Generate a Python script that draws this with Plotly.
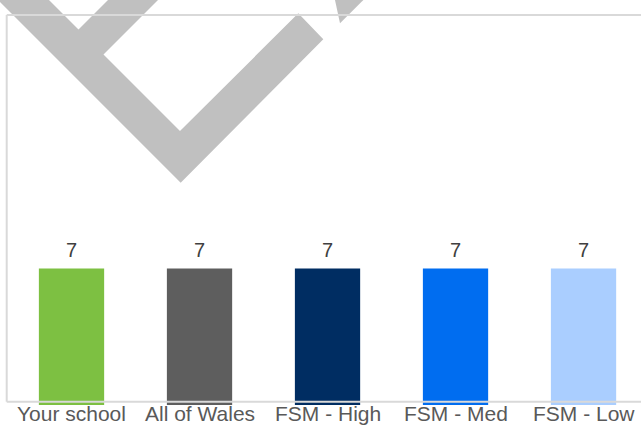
import plotly.graph_objects as go

# Chart data
categories = ["Your school", "All of Wales", "FSM - High", "FSM - Med", "FSM - Low"]
values = [7, 7, 7, 7, 7]
bar_colors = ["#7DC042", "#5E5E5E", "#002D62", "#006DF0", "#AACEFF"]

W, H = 641, 426
M_L, M_R, M_T, M_B = 7, 0, 15, 21
PLOT_W = W - M_L - M_R
PLOT_H = H - M_T - M_B
FONT = "Arial, Liberation Sans, sans-serif"


def px(x, y):
    """Convert page pixel position to paper coordinates."""
    return (x - M_L) / PLOT_W, (H - M_B - y) / PLOT_H


def path_from(points):
    pts = [px(x, y) for x, y in points]
    return "M " + " L ".join(f"{a:.5f},{b:.5f}" for a, b in pts) + " Z"


# Grey watermark tick shape behind the chart
tick_outline = [
    (-22, -20), (180.7, 182.7), (323.3, 39.3), (298.3, 13.3),
    (180, 131), (103.5, 54.5), (178, -20), (128, -20),
    (78.5, 29.5), (29, -20),
]
tick_fragment = [(330.7, -20), (383.4, -20), (340, 23.3)]

shapes = [
    dict(type="path", xref="paper", yref="paper", path=path_from(tick_outline),
         fillcolor="#C0C0C0", line=dict(width=0), layer="below"),
    dict(type="path", xref="paper", yref="paper", path=path_from(tick_fragment),
         fillcolor="#C0C0C0", line=dict(width=0), layer="below"),
]

# Plot frame: left, top and bottom edges
border = dict(color="#D9D9D9", width=2)
x0, y_top = px(6.7, 15)
_, y_bot = px(6.7, 401.7)
shapes += [
    dict(type="line", xref="paper", yref="paper", x0=x0, x1=x0, y0=y_bot, y1=y_top,
         line=border, layer="above"),
    dict(type="line", xref="paper", yref="paper", x0=x0, x1=1.0, y0=y_top, y1=y_top,
         line=border, layer="above"),
    dict(type="line", xref="paper", yref="paper", x0=x0, x1=1.0, y0=y_bot, y1=y_bot,
         line=border, layer="above"),
]

fig = go.Figure(
    go.Bar(
        x=categories,
        y=values,
        marker=dict(color=bar_colors, line=dict(width=0)),
        width=0.51,
        hoverinfo="skip",
    )
)

# Value labels above the bars
annotations = [
    dict(x=c, y=v, xref="x", yref="y", text=str(v), showarrow=False,
         yanchor="bottom", yshift=6,
         font=dict(family=FONT, size=20, color="#404040"))
    for c, v in zip(categories, values)
]
# Category labels under the plot area
annotations += [
    dict(x=c, y=0, xref="x", yref="paper", text=c, showarrow=False,
         yanchor="top", yshift=4, borderpad=0,
         font=dict(family=FONT, size=21, color="#595959"))
    for c in categories
]

fig.update_layout(
    width=W,
    height=H,
    margin=dict(l=M_L, r=M_R, t=M_T, b=M_B, autoexpand=False),
    paper_bgcolor="white",
    plot_bgcolor="white",
    showlegend=False,
    shapes=shapes,
    annotations=annotations,
    font=dict(family=FONT, size=20, color="#595959"),
)
fig.update_xaxes(
    range=[-0.504, 4.449],
    showgrid=False,
    showline=False,
    zeroline=False,
    showticklabels=False,
    ticks="",
    automargin=False,
)
fig.update_yaxes(
    range=[0, 20],
    showgrid=False,
    showline=False,
    zeroline=False,
    showticklabels=False,
    ticks="",
    automargin=False,
)

fig.write_html("out.html")
